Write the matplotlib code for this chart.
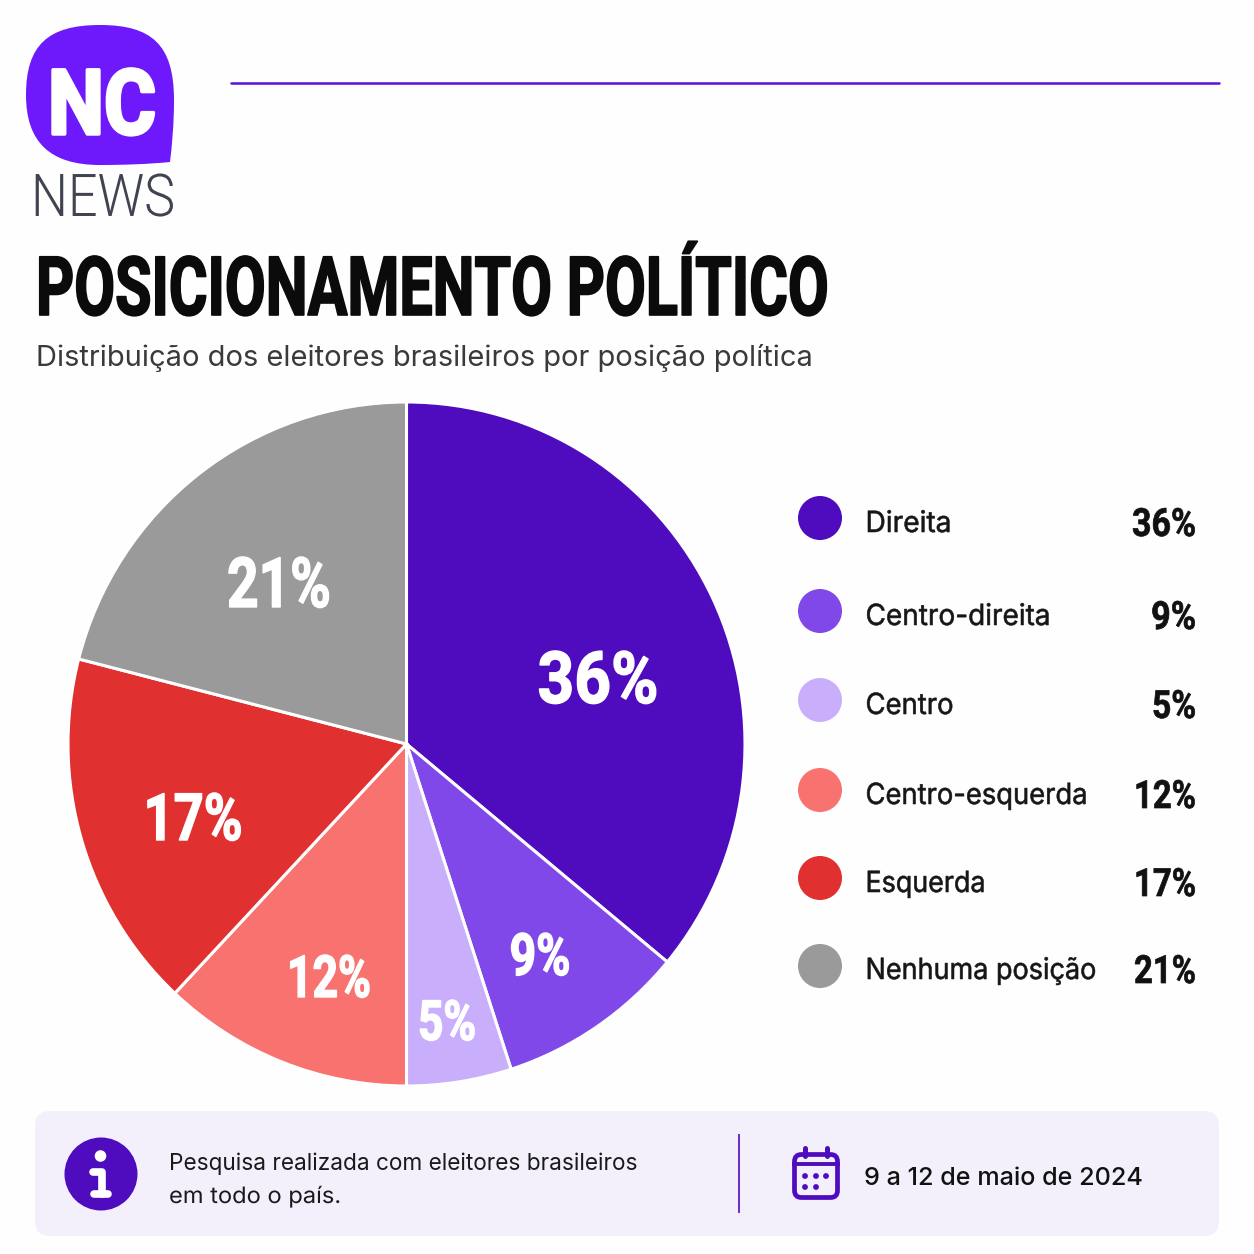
import matplotlib
matplotlib.use("Agg")
import matplotlib.pyplot as plt
import matplotlib.patheffects as pe
from matplotlib.patches import Circle, FancyBboxPatch, PathPatch
from matplotlib.path import Path
from matplotlib.transforms import Affine2D

# data
categories = ["Direita", "Centro-direita", "Centro", "Centro-esquerda", "Esquerda", "Nenhuma posição"]
values = [36, 9, 5, 12, 17, 21]
colors = ["#4E0CBE", "#8048E8", "#C9AEFB", "#F87370", "#E03030", "#9A9A9A"]

# layout, in pixels of the 1254 canvas
slice_label_x = [598, 540, 447, 329, 193, 279]
slice_label_base = [703, 975, 1040, 997, 840, 607]
slice_label_size = [52, 42, 40, 42, 47, 50]
slice_label_w = [121, 61, 58, 84, 99, 104]
legend_marker_y = [518, 611, 700, 790, 878, 966]
legend_text_y = [522, 615, 704, 794, 882, 969]
legend_name_w = [86, 185, 88, 222, 120, 231]
legend_pct_w = [64, 45, 44, 62, 62, 62]

W = 1254
BODY = "Inter"
HEAVY = "Roboto"
PURPLE = "#4E0CBE"


class Squeeze(pe.AbstractPathEffect):
    # narrows glyphs around x0 (no condensed font installed), optional fattening
    def __init__(self, x0, sx, stroke=0):
        super().__init__()
        self.x0, self.sx, self.stroke = x0, sx, stroke

    def draw_path(self, renderer, gc, tpath, affine, rgbFace=None):
        tr = affine + Affine2D().translate(-self.x0, 0).scale(self.sx, 1).translate(self.x0, 0)
        gc0 = renderer.new_gc()
        gc0.copy_properties(gc)
        gc0.set_linewidth(self.stroke)
        gc0.set_foreground(rgbFace)
        gc0.set_joinstyle("round")
        renderer.draw_path(gc0, tpath, tr, rgbFace)
        gc0.restore()


fig = plt.figure(figsize=(12.54, 12.54), dpi=100, facecolor="#FEFEFE")
rend = fig.canvas.get_renderer()

bg = fig.add_axes([0, 0, 1, 1])
bg.set_xlim(0, W)
bg.set_ylim(W, 0)
bg.axis("off")


def narrow_text(a, x, y, s, width, stroke=0, **kw):
    t = a.text(x, y, s, va="baseline", **kw)
    natural = t.get_window_extent(rend).width
    t.set_path_effects([Squeeze(x, width / natural, stroke)])
    return t


# logo
M, C, Z = Path.MOVETO, Path.CURVE4, Path.CLOSEPOLY
logo_pts = [
    (100, 25),
    (152, 25), (174, 45), (174, 100),
    (174, 125), (172, 145), (170, 162),
    (150, 164), (125, 165), (100, 165),
    (50, 165), (26, 142), (26, 95),
    (26, 45), (48, 25), (100, 25),
    (100, 25),
]
bg.add_patch(PathPatch(Path(logo_pts, [M] + [C] * 15 + [Z]), fc="#6D19FB", ec="none"))
narrow_text(bg, 48, 134, "NC", 108, stroke=2.5, color="white", fontsize=65, fontweight="bold",
            family=HEAVY, ha="left")
narrow_text(bg, 31, 216, "NEWS", 144, color="#3F4450", fontsize=42.5, fontweight=300, family="Roboto",
            ha="left")
bg.plot([231, 1219], [83, 83], color="#5A12D6", lw=1.8, solid_capstyle="round")

# heading
narrow_text(bg, 36, 315, "POSICIONAMENTO POLÍTICO", 794, stroke=1.2, color="#0B0B0B", fontsize=59,
            fontweight="bold", family=HEAVY, ha="left")
bg.text(36, 366, "Distribuição dos eleitores brasileiros por posição política", color="#3A3A3A",
        fontsize=20.95, family=BODY, ha="left", va="baseline")

# pie, very slightly taller than wide like the reference
Rx, Ry = 338.5, 342
cx, cy = 406.5, 744
ax = fig.add_axes([(cx - Rx) / W, 1 - (cy + Ry) / W, 2 * Rx / W, 2 * Ry / W])
ax.pie(values, colors=colors, startangle=90, counterclock=False, radius=1,
       wedgeprops={"edgecolor": "white", "linewidth": 2.2})
ax.set_aspect("auto")
ax.set_xlim(-1, 1)
ax.set_ylim(-1, 1)
for p in ax.patches:
    p.set_clip_on(False)

top = fig.add_axes([0, 0, 1, 1])
top.set_xlim(0, W)
top.set_ylim(W, 0)
top.axis("off")

for v, x, y, s, w in zip(values, slice_label_x, slice_label_base, slice_label_size, slice_label_w):
    narrow_text(top, x, y, f"{v}%", w, stroke=1, color="white", fontsize=s, fontweight="bold",
                family=HEAVY, ha="center")

# legend
for i, name in enumerate(categories):
    ty = legend_text_y[i]
    top.add_patch(Circle((820, legend_marker_y[i]), 22, fc=colors[i], ec="none"))
    narrow_text(top, 865.5, ty + 10, name, legend_name_w[i], stroke=0.4, color="#161616", fontsize=21,
                family=BODY, ha="left")
    narrow_text(top, 1196, ty + 14, f"{values[i]}%", legend_pct_w[i], stroke=0.5, color="#111111",
                fontsize=28, fontweight="bold", family=HEAVY, ha="right")

# footer panel
top.add_patch(FancyBboxPatch((35, 1111), 1184, 125, boxstyle="round,pad=0,rounding_size=15",
                             fc="#F3F0FC", ec="none"))
top.plot([738.5, 738.5], [1135, 1212], color="#6A2CC8", lw=1.4)

# info icon
top.add_patch(Circle((101, 1174), 36.5, fc=PURPLE, ec="none"))
top.add_patch(Circle((100.5, 1156), 5.8, fc="white", ec="none"))
top.plot([93, 102, 102], [1172, 1172, 1194], color="white", lw=5.5, solid_capstyle="round",
         solid_joinstyle="round")
top.plot([94, 108], [1194, 1194], color="white", lw=5.5, solid_capstyle="round")

top.text(169, 1170, "Pesquisa realizada com eleitores brasileiros", color="#1A1A1A", fontsize=16.3,
         family=BODY, va="baseline")
narrow_text(top, 169, 1203, "em todo o país.", 172, color="#1A1A1A", fontsize=16.3, family=BODY, ha="left")

# calendar icon
top.add_patch(FancyBboxPatch((794.5, 1154.5), 43, 43, boxstyle="round,pad=0,rounding_size=7",
                             fc="none", ec=PURPLE, lw=3.4))
top.plot([794, 838], [1164, 1164], color=PURPLE, lw=2.8)
for x in (805, 827):
    top.plot([x, x], [1148, 1156], color=PURPLE, lw=3.6, solid_capstyle="round")
for x, y in [(805, 1176), (816, 1176), (826, 1176), (805, 1187), (816, 1187)]:
    top.add_patch(Circle((x, y), 2.9, fc=PURPLE, ec="none"))

top.text(864, 1185, "9 a 12 de maio de 2024", color="#111111", fontsize=18.1, fontweight="medium",
         family=BODY, va="baseline")

fig.savefig("out.png", dpi=100, facecolor=fig.get_facecolor())
